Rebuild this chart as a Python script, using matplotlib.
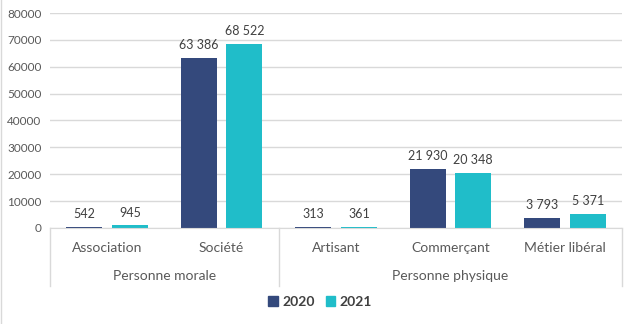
import matplotlib
matplotlib.use("Agg")
import matplotlib.pyplot as plt
from matplotlib.lines import Line2D
from matplotlib.transforms import blended_transform_factory

categories = ["Association", "Société", "Artisant", "Commerçant", "Métier libéral"]
groups = ["Personne morale", "Personne physique"]
group_spans = [(0, 1), (2, 4)]
series_names = ["2020", "2021"]
values_2020 = [542, 63386, 313, 21930, 3793]
values_2021 = [945, 68522, 361, 20348, 5371]
yticks = [0, 10000, 20000, 30000, 40000, 50000, 60000, 70000, 80000]

colors = ["#34497C", "#20BDC9"]
txt = "#595959"
plt.rcParams['font.family'] = ['Lato', 'DejaVu Sans']

W, H = 637, 324
fig = plt.figure(figsize=(W/100, H/100), dpi=100)
L, R, B, T = 50, 622, 228, 13
ax = fig.add_axes([L/W, 1-B/H, (R-L)/W, (B-T)/H])

x = list(range(len(categories)))
bw = 0.315
off = 0.2
for vals, c, d in [(values_2020, colors[0], -off), (values_2021, colors[1], off)]:
    xs = [i + d for i in x]
    ax.bar(xs, vals, width=bw, color=c, zorder=3)
    for xi, v in zip(xs, vals):
        ax.annotate(f"{v:,}".replace(",", " "), (xi, v), xytext=(0, 5), textcoords="offset points",
                    ha="center", va="bottom", fontsize=9, color="#404040")

ax.set_xlim(-0.5, len(categories)-0.5)
ax.set_ylim(0, 80000)
ax.set_yticks(yticks)
ax.set_yticklabels([str(t) for t in yticks], fontsize=8.5, color=txt)
ax.tick_params(axis="y", length=0, pad=6)
ax.set_xticks([])
ax.grid(axis="y", color="#D9D9D9", linewidth=1, zorder=0)
for s in ["top", "right", "left"]:
    ax.spines[s].set_visible(False)
ax.spines["bottom"].set_color("#D9D9D9")
ax.spines["bottom"].set_zorder(4)

tr = blended_transform_factory(ax.transData, fig.transFigure)
for i, c in enumerate(categories):
    fig.text(i, 1-248/H, c, transform=tr, ha="center", va="center", fontsize=10, color=txt)
for g, (a, b) in zip(groups, group_spans):
    fig.text((a+b)/2, 1-276/H, g, transform=tr, ha="center", va="center", fontsize=10, color=txt)
for xv in [-0.5, 1.5, 4.5]:
    fig.add_artist(Line2D([xv, xv], [1-B/H, 1-286/H], transform=tr, color="#D9D9D9", linewidth=1))

fig.add_artist(Line2D([0.5/W, 0.5/W], [0, 1], transform=fig.transFigure, color="#D9D9D9", linewidth=1))

handles = [plt.Rectangle((0, 0), 1, 1, color=c) for c in colors]
leg = fig.legend(handles, series_names, loc="center", bbox_to_anchor=(320/W, 1-302/H), ncol=2,
                 frameon=False, handlelength=0.7, handleheight=0.7, handletextpad=0.3, columnspacing=0.8,
                 prop={"weight": "bold", "size": 10})
for t in leg.get_texts():
    t.set_color("#404040")

fig.savefig("out.png", dpi=100)
